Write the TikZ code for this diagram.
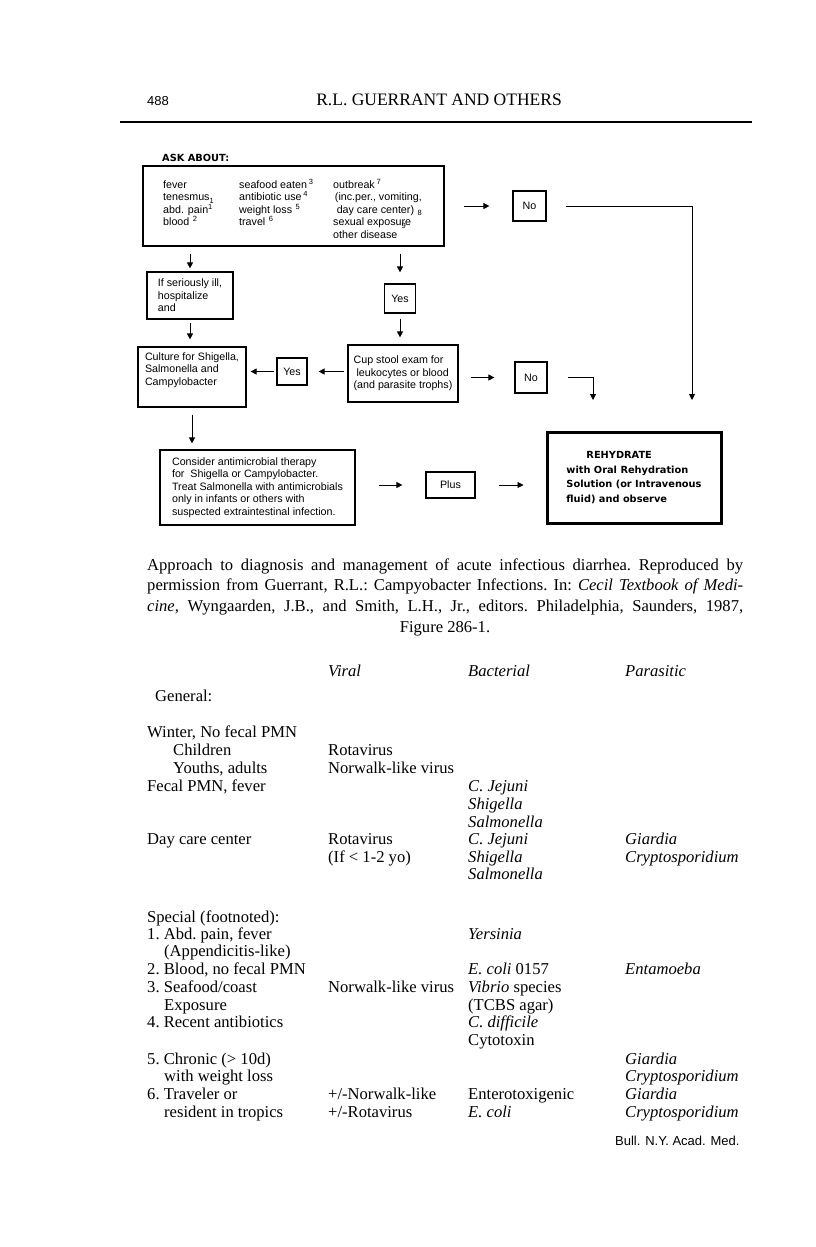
\documentclass[tikz,border=0pt]{standalone}
\usepackage{fontspec}
\setmainfont{Liberation Serif}
\newfontfamily\helv{Liberation Sans}
\newfontfamily\dejab{DejaVu Sans}
\usetikzlibrary{arrows.meta}
\newcommand\fcfont{\helv\fontsize{10.7}{12.4}\selectfont}
\newcommand\chicf{\dejab\bfseries\fontsize{9.8}{14.5}\selectfont}
\newcommand\ttab{\frenchspacing\fontsize{16.6}{17.5}\selectfont}
\newcommand\sps[1]{\raisebox{3.8pt}{\fontsize{7.5}{8}\selectfont #1}}
\newcommand\sbs[1]{\raisebox{-2.8pt}{\fontsize{7.5}{8}\selectfont #1}}
\begin{document}
\begin{tikzpicture}[x=1pt,y=-1pt,
  fc/.style={draw,line width=1.2pt,inner sep=0pt,align=left,font=\fcfont},
  fcc/.style={fc,align=center},
  lt/.style={anchor=base west,inner sep=0pt,font=\fcfont},
  tt/.style={anchor=base west,inner sep=0pt,font=\ttab},
  arr/.style={line width=0.9pt,-{Triangle[length=6pt,width=6pt]}}]
\fill[white] (0,0) rectangle (816,1247);
\useasboundingbox (0,0) rectangle (816,1247);
% header
\node[anchor=base west,inner sep=0pt,font=\helv\fontsize{13}{13}\selectfont] (pg) at (147,105) {488};
\node[anchor=base,inner sep=0pt,font=\fontsize{17.5}{17.5}\selectfont] (rh) at (439,105) {R.L. GUERRANT AND OTHERS};
\draw[line width=1.2pt] (120,122) -- (752,122);
% flowchart
\node[lt,font=\chicf] (askh) at (162,161) {ASK ABOUT:};
\node[fc,minimum width=301pt,minimum height=80pt] (ask) at (293.5,206) {};
\node[lt] (a1) at (163,188) {fever};
\node[lt] (a2) at (163,200.5) {tenesmus\sbs{1}};
\node[lt] (a3) at (163,213) {abd. pain\sps{1}};
\node[lt] (a4) at (163,225.5) {blood\,\,\sps{2}};
\node[lt] (b1) at (239,188) {seafood eaten\,\sps{3}};
\node[lt] (b2) at (239,200.5) {antibiotic use\,\sps{4}};
\node[lt] (b3) at (239,213) {weight loss\,\,\sps{5}};
\node[lt] (b4) at (239,225.5) {travel\,\,\sps{6}};
\node[lt] (c1) at (333,188) {outbreak\,\sps{7}};
\node[lt] (c2) at (333,200.5) {\,(inc.per., vomiting,};
\node[lt] (c3) at (333,213) {\,\,day care center)\,\,\sbs{8}};
\node[lt] (c4) at (333,225.5) {sexual exposu\rlap{\raisebox{-3pt}{\fontsize{7.5}{8}\selectfont 9}}re};
\node[lt] (c5) at (333,238) {other disease};
\node[fcc,minimum width=33pt,minimum height=30pt] (no1) at (529.5,206) {No};
\node[fc,minimum width=86pt,minimum height=47pt] (ill) at (190,295.5) {If seriously ill,\\hospitalize\\and};
\node[fcc,minimum width=31pt,minimum height=29pt] (yes1) at (400,298.5) {Yes};
\node[fc,minimum width=108pt,minimum height=60pt] (cult) at (192,377) {Culture for Shigella,\\Salmonella and\\Campylobacter\\[4pt]};
\node[fcc,minimum width=30pt,minimum height=27pt] (yes2) at (292,371.5) {Yes};
\node[fc,minimum width=110pt,minimum height=57pt] (cup) at (403,373.5) {Cup stool exam for\\\ leukocytes or blood\\(and parasite trophs)};
\node[fcc,minimum width=32pt,minimum height=31pt] (no2) at (531,377.5) {No};
\node[fc,minimum width=195pt,minimum height=75pt] (cons) at (257.5,487.5) {Consider antimicrobial therapy\\for\ \ Shigella or Campylobacter.\\Treat Salmonella with antimicrobials\\only in infants or others with\\suspected extraintestinal infection.};
\node[fcc,minimum width=49pt,minimum height=26pt] (plus) at (450.5,485) {Plus};
\node[fc,line width=3pt,font=\chicf,minimum width=174pt,minimum height=91pt] (reh) at (634,477.5) {\hspace*{20pt}REHYDRATE\\with Oral Rehydration\\Solution (or Intravenous\\fluid) and observe};
\coordinate (e1) at (692,400);
\coordinate (e2) at (593,400);
\draw[arr,shorten <=19pt,shorten >=23pt] (ask.east) -- (no1.west);
\draw[arr] ([xshift=19pt]no1.east) -| (e1);
\draw[arr,shorten <=7pt,shorten >=3pt] (ask.south -| ill.north) -- (ill.north);
\draw[arr,shorten <=7pt,shorten >=11pt] (ask.south -| yes1.north) -- (yes1.north);
\draw[arr,shorten <=3pt,shorten >=7pt] (ill.south) -- (ill.south |- cult.north);
\draw[arr,shorten <=5pt,shorten >=7pt] (yes1.south) -- (yes1.south |- cup.north);
\draw[arr,shorten <=3pt,shorten >=11pt] (cup.west |- yes2.east) -- (yes2.east);
\draw[arr,shorten <=2pt,shorten >=4pt] (yes2.west) -- (yes2.west -| cult.east);
\draw[arr,shorten <=12pt,shorten >=20pt] (cup.east |- no2.west) -- (no2.west);
\draw[arr] ([xshift=20pt]no2.east) -| (e2);
\draw[arr,shorten <=7pt,shorten >=6pt] (cult.south) -- (cult.south |- cons.north);
\draw[arr,shorten <=23pt,shorten >=23pt] (cons.east |- plus.west) -- (plus.west);
\draw[arr,shorten <=23pt,shorten >=22pt] (plus.east) -- (plus.east -| reh.west);
% caption
\node[tt] (cap1) at (147,570) {\hbox to 596pt{Approach to diagnosis and management of acute infectious diarrhea. Reproduced by}};
\node[tt] (cap2) at (147,590) {\hbox to 596pt{permission from Guerrant, R.L.: Campyobacter Infections. In: \textit{Cecil Textbook of Medi-}}};
\node[tt] (cap3) at (147,611) {\hbox to 596pt{\textit{cine}, Wyngaarden, J.B., and Smith, L.H., Jr., editors. Philadelphia, Saunders, 1987,}};
\node[anchor=base,inner sep=0pt,font=\ttab] (cap4) at (445,632) {Figure 286-1.};
% table
\node[tt] (h1) at (328,676) {\textit{Viral}};
\node[tt] (h2) at (468,676) {\textit{Bacterial}};
\node[tt] (h3) at (625,676) {\textit{Parasitic}};
\node[tt] (g0) at (155,701) {General:};
\node[tt] (g1) at (147,737) {Winter, No fecal PMN};
\node[tt] (g2) at (173,755) {Children};
\node[tt] (g2v) at (328,755) {Rotavirus};
\node[tt] (g3) at (173,773) {Youths, adults};
\node[tt] (g3v) at (328,773) {Norwalk-like virus};
\node[tt] (g4) at (147,791) {Fecal PMN, fever};
\node[tt] (g4b) at (468,791) {\textit{C. Jejuni}};
\node[tt] (g5b) at (468,809) {\textit{Shigella}};
\node[tt] (g6b) at (468,827) {\textit{Salmonella}};
\node[tt] (g7) at (147,844) {Day care center};
\node[tt] (g7v) at (328,844) {Rotavirus};
\node[tt] (g7b) at (468,844) {\textit{C. Jejuni}};
\node[tt] (g7p) at (625,844) {\textit{Giardia}};
\node[tt] (g8v) at (328,862) {(If < 1-2 yo)};
\node[tt] (g8b) at (468,862) {\textit{Shigella}};
\node[tt] (g8p) at (625,862) {\textit{Cryptosporidium}};
\node[tt] (g9b) at (468,879) {\textit{Salmonella}};
\node[tt] (s0) at (147,922) {Special (footnoted):};
\node[tt] (s1) at (147,939) {1. Abd. pain, fever};
\node[tt] (s1b) at (468,939) {\textit{Yersinia}};
\node[tt] (s1c) at (164,956) {(Appendicitis-like)};
\node[tt] (s2) at (147,974) {2. Blood, no fecal PMN};
\node[tt] (s2b) at (468,974) {\textit{E. coli} 0157};
\node[tt] (s2p) at (625,974) {\textit{Entamoeba}};
\node[tt] (s3) at (147,992) {3. Seafood/coast};
\node[tt] (s3v) at (328,992) {Norwalk-like virus};
\node[tt] (s3b) at (468,992) {\textit{Vibrio} species};
\node[tt] (s3c) at (164,1010) {Exposure};
\node[tt] (s3d) at (468,1010) {(TCBS agar)};
\node[tt] (s4) at (147,1027) {4. Recent antibiotics};
\node[tt] (s4b) at (468,1027) {\textit{C. difficile}};
\node[tt] (s4c) at (468,1045) {Cytotoxin};
\node[tt] (s5) at (147,1064) {5. Chronic (> 10d)};
\node[tt] (s5p) at (625,1064) {\textit{Giardia}};
\node[tt] (s5c) at (164,1081) {with weight loss};
\node[tt] (s5q) at (625,1081) {\textit{Cryptosporidium}};
\node[tt] (s6) at (147,1099) {6. Traveler or};
\node[tt] (s6v) at (328,1099) {+/-Norwalk-like};
\node[tt] (s6b) at (468,1099) {Enterotoxigenic};
\node[tt] (s6p) at (625,1099) {\textit{Giardia}};
\node[tt] (s6c) at (164,1117) {resident in tropics};
\node[tt] (s6w) at (328,1117) {+/-Rotavirus};
\node[tt] (s6e) at (468,1117) {\textit{E. coli}};
\node[tt] (s6q) at (625,1117) {\textit{Cryptosporidium}};
\node[anchor=base west,inner sep=0pt,font=\helv\fontsize{13}{13}\selectfont] (foot) at (615,1145) {Bull. N.Y. Acad. Med.};
\end{tikzpicture}
\end{document}
